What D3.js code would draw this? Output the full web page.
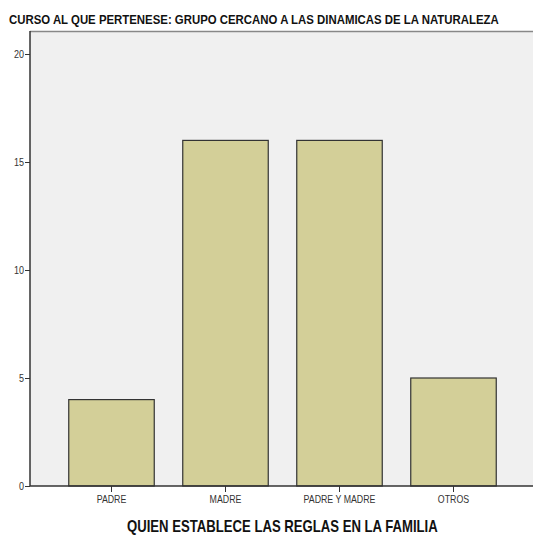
<!DOCTYPE html>
<html><head><meta charset="utf-8">
<script src="https://cdn.jsdelivr.net/npm/d3@7"></script>
<style>body{margin:0;background:#fff}svg{display:block}</style>
</head><body>
<script>
const categories = ["PADRE", "MADRE", "PADRE Y MADRE", "OTROS"];
const counts = [4, 16, 16, 5];
const yTicks = [0, 5, 10, 15, 20];
const title = "CURSO AL QUE PERTENESE: GRUPO CERCANO A LAS DINAMICAS DE LA NATURALEZA";
const xTitle = "QUIEN ESTABLECE LAS REGLAS EN LA FAMILIA";

const W = 533, H = 536;
const font = "'Liberation Sans',Arial,sans-serif";
const svg = d3.select("body").append("svg").attr("width", W).attr("height", H);

function condense(sel, factor) {
  sel.each(function () {
    const w = this.getComputedTextLength();
    d3.select(this).attr("textLength", w * factor).attr("lengthAdjust", "spacingAndGlyphs");
  });
}
// place text at (x, y) and squeeze it horizontally to a target width
function squeezeTo(sel, x0, y0, width) {
  const w = sel.node().getComputedTextLength();
  sel.attr("x", 0).attr("y", 0).attr("transform", `translate(${x0},${y0}) scale(${width / w},1)`);
}

const plotL = 30, plotT = 31, plotB = 486, plotR = 533;
const y = d3.scaleLinear().domain([0, 20]).range([486, 54]);
const x = d3.scaleBand().domain(categories).range([54.5, 510.5]).paddingInner(0.25).paddingOuter(0.125);

svg.append("rect").attr("x", plotL).attr("y", plotT).attr("width", plotR - plotL).attr("height", plotB - plotT).attr("fill", "#f0f0f0");
svg.append("line").attr("x1", plotL).attr("x2", plotR).attr("y1", plotT + 0.5).attr("y2", plotT + 0.5).attr("stroke", "#888").attr("stroke-width", 1.5);

svg.append("g").selectAll("rect").data(categories).join("rect")
  .attr("x", d => x(d)).attr("width", x.bandwidth())
  .attr("y", (d, i) => y(counts[i])).attr("height", (d, i) => y(0) - y(counts[i]))
  .attr("fill", "#d3cf98").attr("stroke", "#333").attr("stroke-width", 1.2);

const ya = svg.append("g").attr("transform", `translate(${plotL},0)`)
  .call(d3.axisLeft(y).tickValues(yTicks).tickSize(5).tickPadding(1));
ya.select(".domain").attr("stroke", "#333").attr("stroke-width", 1.5).attr("d", `M0,${plotT}V${plotB}`);
ya.selectAll("text").attr("font-family", font).attr("font-size", 11).attr("fill", "#333");
condense(ya.selectAll("text"), 0.82);
ya.selectAll(".tick line").attr("stroke", "#333");

const xa = svg.append("g").attr("transform", `translate(0,${plotB})`)
  .call(d3.axisBottom(x).tickSize(6).tickPadding(3));
xa.select(".domain").attr("stroke", "#333").attr("stroke-width", 1.5).attr("d", `M${plotL},0H${plotR}`);
xa.selectAll("text").attr("font-family", font).attr("font-size", 11).attr("fill", "#333");
condense(xa.selectAll("text"), 0.8);
xa.selectAll(".tick line").attr("stroke", "#333");

const t = svg.append("text").attr("font-family", font).attr("font-weight", "bold")
  .attr("font-size", 13).attr("fill", "#111").text(title);
squeezeTo(t, 9, 24, 490);
const xt = svg.append("text").attr("font-family", font)
  .attr("font-weight", "bold").attr("font-size", 16).attr("fill", "#111").text(xTitle);
squeezeTo(xt, 127, 532, 311);
</script>
</body></html>
